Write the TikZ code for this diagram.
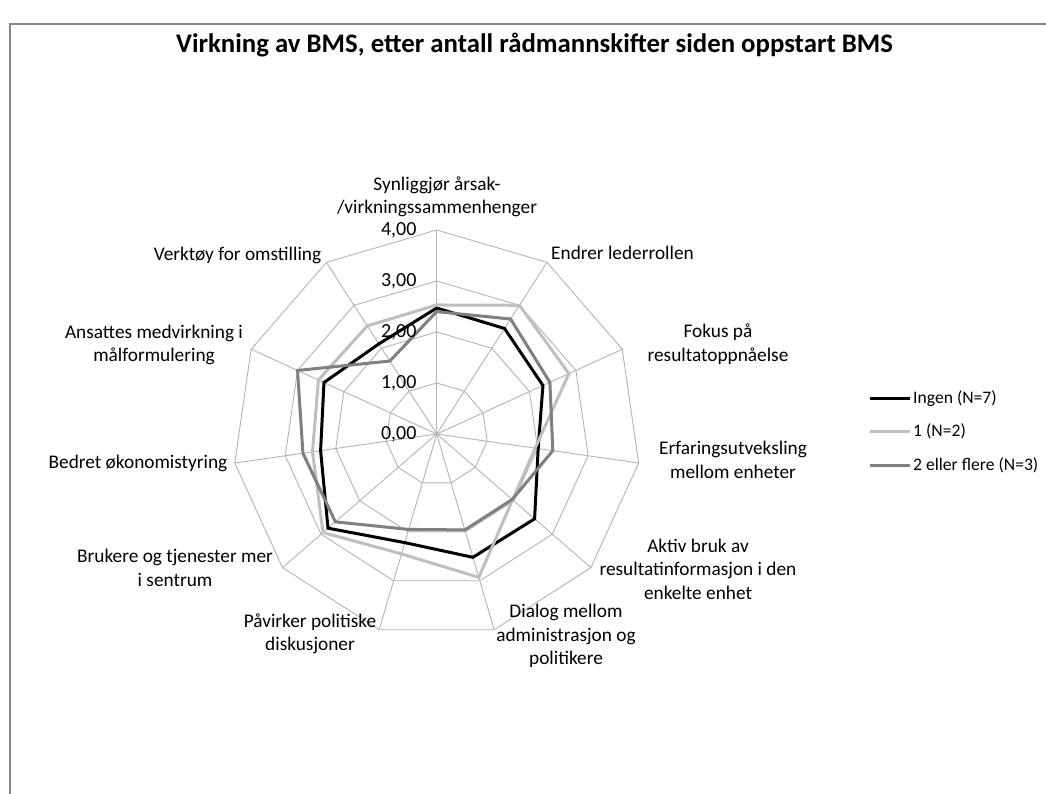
\documentclass[tikz,border=0pt]{standalone}
\usepackage{fontspec}
\setmainfont{Carlito}
\definecolor{gridgray}{HTML}{B4B4B4}
\definecolor{framegray}{HTML}{868686}
\definecolor{seriesA}{HTML}{000000}
\definecolor{seriesB}{HTML}{BFBFBF}
\definecolor{seriesC}{HTML}{808080}
\begin{document}
\begin{tikzpicture}[x=1pt,y=-1pt,
  gridline/.style={draw=gridgray,line width=0.9pt},
  seriesline/.style={line width=3pt,line join=miter},
  lbl/.style={font=\fontsize{19.3}{23.5}\selectfont,align=center,inner sep=0pt},
  tick/.style={font=\fontsize{20}{24}\selectfont,anchor=east,inner sep=0pt},
  legtext/.style={font=\fontsize{17.6}{21}\selectfont,anchor=west,inner sep=0pt}]
\useasboundingbox (0,0) rectangle (1046,794);
\fill[white] (0,0) rectangle (1046,794);
% chart area border
\draw[framegray,line width=1.5pt] (10,794) |- (1046,24);
% title
\node[font=\bfseries\fontsize{26.8}{32}\selectfont,inner sep=0pt] (title) at (534.5,45)
  {Virkning av BMS, etter antall rådmannskifter siden oppstart BMS};

% radar grid, series
\begin{scope}[shift={(436.7,434)},yscale=-1]
  \foreach \k in {0,...,10}
    \draw[gridline] (0,0) -- ({90-\k*360/11}:204);
  \foreach \r in {51,102,153,204}
    \draw[gridline] (90:\r) \foreach \k in {1,...,10} { -- ({90-\k*360/11}:\r) } -- cycle;
  % Ingen (N=7)
  \draw[seriesline,seriesA] (90:{51*2.47})
    \foreach \v [count=\k] in {2.46,2.29,2.01,2.54,2.52,2.22,2.82,2.30,2.43,2.10}
      { -- ({90-\k*360/11}:{51*\v}) } -- cycle;
  % 1 (N=2)
  \draw[seriesline,seriesB] (90:{51*2.53})
    \foreach \v [count=\k] in {3.00,2.85,1.95,1.97,2.93,2.45,2.95,2.46,2.55,2.52}
      { -- ({90-\k*360/11}:{51*\v}) } -- cycle;
  % 2 eller flere (N=3)
  \draw[seriesline,seriesC] (90:{51*2.40})
    \foreach \v [count=\k] in {2.68,2.44,2.30,1.96,1.96,1.95,2.63,2.65,3.00,1.70}
      { -- ({90-\k*360/11}:{51*\v}) } -- cycle;
\end{scope}

% value axis labels
\node[tick] (t0) at (416.7,434) {0,00};
\node[tick] (t1) at (416.7,383) {1,00};
\node[tick] (t2) at (416.7,332) {2,00};
\node[tick] (t3) at (416.7,281) {3,00};
\node[tick] (t4) at (416.7,230) {4,00};

% category labels
\node[lbl] (c0) at (437,197) {Synliggjør årsak-\\/virkningssammenhenger};
\node[lbl,anchor=west] (c1) at (551,253) {Endrer lederrollen};
\node[lbl] (c2) at (718,344) {Fokus på\\resultatoppnåelse};
\node[lbl] (c3) at (733,460) {Erfaringsutveksling\\mellom enheter};
\node[lbl] (c4) at (698,569) {Aktiv bruk av\\resultatinformasjon i den\\enkelte enhet};
\node[lbl] (c5) at (566,636) {Dialog mellom\\administrasjon og\\politikere};
\node[lbl] (c6) at (310,634) {Påvirker politiske\\diskusjoner};
\node[lbl] (c7) at (175,568) {Brukere og tjenester mer\\i sentrum};
\node[lbl] (c8) at (138,463) {Bedret økonomistyring};
\node[lbl] (c9) at (154,345) {Ansattes medvirkning i\\målformulering};
\node[lbl] (c10) at (237.5,255) {Verktøy for omstilling};

% legend
\coordinate (la1) at (870,398.3); \coordinate (la2) at (910,398.3);
\coordinate (lb1) at (870,431.7); \coordinate (lb2) at (910,431.7);
\coordinate (lc1) at (870,465);   \coordinate (lc2) at (910,465);
\draw[seriesline,seriesA] (la1) -- (la2);
\draw[seriesline,seriesB] (lb1) -- (lb2);
\draw[seriesline,seriesC] (lc1) -- (lc2);
\node[legtext] (lega) at (913,398.3) {Ingen (N=7)};
\node[legtext] (legb) at (913,431.7) {1 (N=2)};
\node[legtext] (legc) at (913,465) {2 eller flere (N=3)};
\end{tikzpicture}
\end{document}
